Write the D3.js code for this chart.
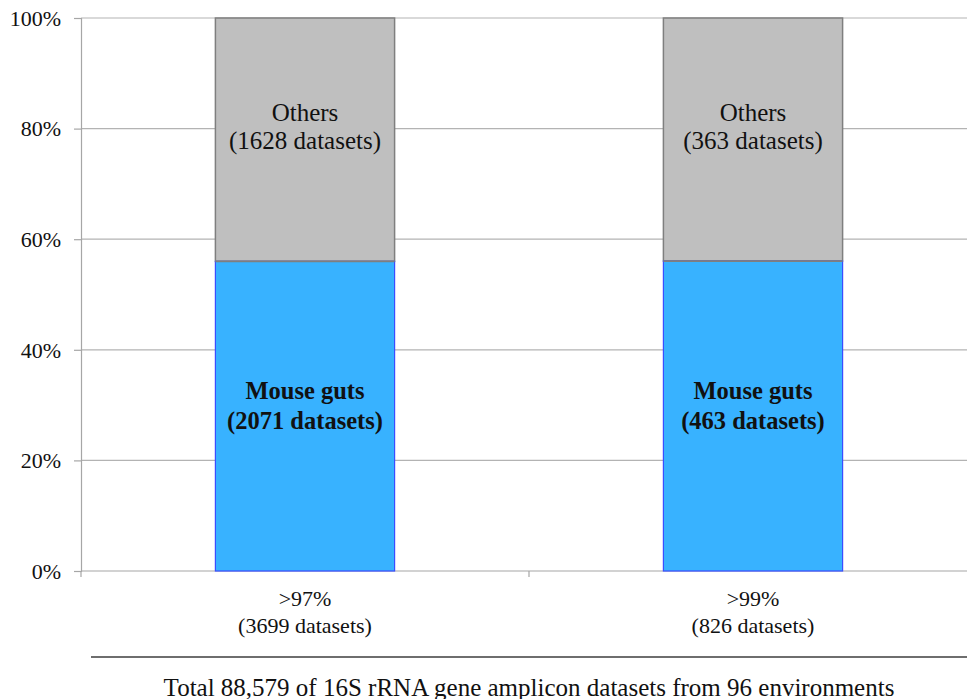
<!DOCTYPE html>
<html>
<head>
<meta charset="utf-8">
<script src="https://cdn.jsdelivr.net/npm/d3@7"></script>
<style>
  body { margin: 0; background: #fff; }
  svg text { font-family: "Liberation Serif", "DejaVu Serif", serif; fill: #111; }
</style>
</head>
<body>
<div id="canvas"></div>
<script>
var categories = [">97%", ">99%"];
var categorySubs = ["(3699 datasets)", "(826 datasets)"];
var mouseCounts = [2071, 463];
var otherCounts = [1628, 363];
var yTicks = [0, 20, 40, 60, 80, 100];
var footer = "Total 88,579 of 16S rRNA gene amplicon datasets from 96 environments";

var width = 967, height = 699;
var plotLeft = 81, plotTop = 18, plotBottom = 571;
var serif = "'Liberation Serif', 'DejaVu Serif', serif";

var svg = d3.select("#canvas").append("svg").attr("width", width).attr("height", height);

var x = d3.scaleBand().domain(categories).range([plotLeft, 977]).paddingInner(0).paddingOuter(0);
var y = d3.scaleLinear().domain([0, 100]).range([plotBottom, plotTop]);

// gridlines
svg.append("g").selectAll("line").data(yTicks.slice(1)).enter().append("line")
  .attr("x1", plotLeft).attr("x2", width)
  .attr("y1", function(d) { return y(d); }).attr("y2", function(d) { return y(d); })
  .attr("stroke", "#b3b3b3").attr("stroke-width", 1.2);

// y axis
var yAxis = d3.axisLeft(y).tickValues(yTicks).tickSize(7).tickFormat(function(d) { return d + "%"; });
var gy = svg.append("g").attr("transform", "translate(" + plotLeft + ",0)").call(yAxis);
gy.attr("font-family", null).attr("font-size", null);
gy.select(".domain").attr("stroke", "#a6a6a6").attr("stroke-width", 1.2);
gy.selectAll(".tick line").attr("stroke", "#a6a6a6").attr("stroke-width", 1.2);
gy.selectAll(".tick text").attr("x", -20).attr("dy", "0.33em")
  .style("font-size", "22px").style("font-family", serif).attr("fill", "#111");

// x axis baseline and ticks at band edges
svg.append("line").attr("x1", plotLeft).attr("x2", width).attr("y1", plotBottom).attr("y2", plotBottom)
  .attr("stroke", "#a6a6a6").attr("stroke-width", 1.2);
svg.append("g").selectAll("line").data(categories).enter().append("line")
  .attr("x1", function(d) { return x(d); }).attr("x2", function(d) { return x(d); })
  .attr("y1", plotBottom).attr("y2", plotBottom + 6)
  .attr("stroke", "#a6a6a6").attr("stroke-width", 1.2);

var barW = x.bandwidth() * 0.4;
var rows = categories.map(function(c, i) {
  var total = mouseCounts[i] + otherCounts[i];
  return { cat: c, mouse: mouseCounts[i] / total * 100, other: otherCounts[i], m: mouseCounts[i] };
});

// bars
rows.forEach(function(r) {
  var cx = x(r.cat) + x.bandwidth() / 2;
  svg.append("rect")
    .attr("x", cx - barW / 2).attr("y", y(100))
    .attr("width", barW).attr("height", y(r.mouse) - y(100))
    .attr("fill", "#bfbfbf").attr("stroke", "#7f7f7f").attr("stroke-width", 1.5);
  svg.append("rect")
    .attr("x", cx - barW / 2).attr("y", y(r.mouse))
    .attr("width", barW).attr("height", y(0) - y(r.mouse))
    .attr("fill", "#38b2ff").attr("stroke", "#3a4dff").attr("stroke-width", 1.2);
  svg.append("line")
    .attr("x1", cx - barW / 2).attr("x2", cx + barW / 2)
    .attr("y1", y(r.mouse)).attr("y2", y(r.mouse))
    .attr("stroke", "#7f7f7f").attr("stroke-width", 1.8);

  var oy = (y(100) + y(r.mouse)) / 2;
  svg.append("text").attr("x", cx).attr("y", oy - 19).attr("text-anchor", "middle")
    .style("font-size", "25px").style("font-family", serif).text("Others");
  svg.append("text").attr("x", cx).attr("y", oy + 9).attr("text-anchor", "middle")
    .style("font-size", "25px").style("font-family", serif).text("(" + r.other + " datasets)");

  var my = (y(r.mouse) + y(0)) / 2;
  svg.append("text").attr("x", cx).attr("y", my - 17).attr("text-anchor", "middle")
    .style("font-size", "24.5px").style("font-weight", "bold").style("font-family", serif).text("Mouse guts");
  svg.append("text").attr("x", cx).attr("y", my + 13).attr("text-anchor", "middle")
    .style("font-size", "24.5px").style("font-weight", "bold").style("font-family", serif).text("(" + r.m + " datasets)");
});

// category labels
categories.forEach(function(c, i) {
  var cx = x(c) + x.bandwidth() / 2;
  svg.append("text").attr("x", cx).attr("y", 606).attr("text-anchor", "middle")
    .style("font-size", "22px").style("font-family", serif).text(c);
  svg.append("text").attr("x", cx).attr("y", 633).attr("text-anchor", "middle")
    .style("font-size", "22px").style("font-family", serif).text(categorySubs[i]);
});

// separator line and footer
svg.append("line").attr("x1", 91).attr("x2", width).attr("y1", 657).attr("y2", 657)
  .attr("stroke", "#6e6e6e").attr("stroke-width", 2);
svg.append("text").attr("x", 529).attr("y", 696).attr("text-anchor", "middle")
  .style("font-size", "25px").style("font-family", serif).text(footer);
</script>
</body>
</html>
